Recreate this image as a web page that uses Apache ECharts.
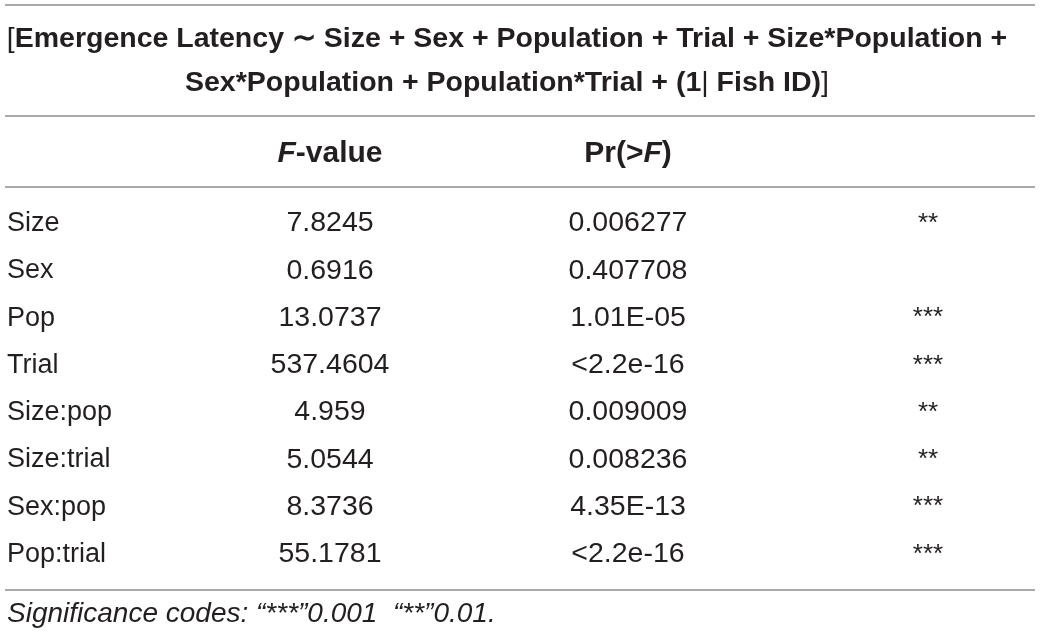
<!DOCTYPE html>
<html>
<head>
<meta charset="utf-8">
<script src="https://cdn.jsdelivr.net/npm/echarts@6/dist/echarts.min.js"></script>
<style>
    html, body { margin: 0; padding: 0; background: #fff; }
    #main { width: 1040px; height: 638px; }
</style>
</head>
<body>
<div id="main"></div>
<script>
// table content
var terms = ['Size', 'Sex', 'Pop', 'Trial', 'Size:pop', 'Size:trial', 'Sex:pop', 'Pop:trial'];
var fValues = ['7.8245', '0.6916', '13.0737', '537.4604', '4.959', '5.0544', '8.3736', '55.1781'];
var pValues = ['0.006277', '0.407708', '1.01E-05', '<2.2e-16', '0.009009', '0.008236', '4.35E-13', '<2.2e-16'];
var signif = ['**', '', '***', '***', '**', '**', '***', '***'];
var titleLines = ['{n|[}Emergence Latency \u223C Size + Sex + Population + Trial + Size*Population +',
    'Sex*Population + Population*Trial + (1{n|| }Fish ID){n|]}'];
var headF = '{i|F}-value';
var headP = 'Pr(>{i|F})';
var footnote = 'Significance codes: \u201C***\u201D0.001  \u201C**\u201D0.01.';

var font = '"Liberation Sans", Arial, sans-serif';
var ink = '#231f20';
var rule = '#8c8c8c';
var colX = {f: 330, p: 628, s: 928}; // column centres in px
var gridLeft = 7;

function cells(list, x) {
    var out = [];
    for (var i = 0; i < list.length; i++) {
        out.push({value: [x, terms[i]], label: {formatter: list[i]}});
    }
    return out;
}

function cellSeries(list, x, extra) {
    return {
        type: 'scatter',
        symbolSize: 0,
        silent: true,
        itemStyle: {opacity: 1},
        data: cells(list, x - gridLeft),
        label: Object.assign({
            show: true,
            position: 'inside',
            align: 'center',
            verticalAlign: 'middle',
            fontFamily: font,
            fontSize: 28.5,
            color: ink,
            opacity: 1
        }, extra || {})
    };
}

function hline(y) {
    return {type: 'line', shape: {x1: 5, y1: y, x2: 1035, y2: y}, style: {stroke: rule, lineWidth: 1.5}};
}

function headText(x, txt) {
    return {
        type: 'text', x: x, y: 154,
        style: {
            text: txt, font: 'bold 30px ' + font, fill: ink, align: 'center', verticalAlign: 'middle',
            rich: {i: {fontStyle: 'italic', fontWeight: 'bold', fontSize: 30, fontFamily: font, fill: ink}}
        }
    };
}

var chart = echarts.init(document.getElementById('main'));
var option = {
    backgroundColor: '#fff',
    animation: false,
    graphic: [
        hline(5), hline(116), hline(187), hline(590),
        {
            type: 'text', x: 507, y: 61,
            style: {
                text: titleLines.join('\n'),
                font: 'bold 28.5px ' + font,
                fill: ink,
                align: 'center',
                verticalAlign: 'middle',
                lineHeight: 44,
                rich: {
                    n: {fontFamily: font, fontSize: 28.5, fontWeight: 'normal', fill: ink, lineHeight: 44}
                }
            }
        },
        headText(colX.f, headF),
        headText(colX.p, headP),
        {
            type: 'text', x: 7, y: 614,
            style: {
                text: footnote, font: 'italic 28px ' + font, fill: ink, align: 'left', verticalAlign: 'middle'
            }
        }
    ],
    grid: {left: gridLeft, right: 0, top: 200, height: 378},
    xAxis: {type: 'value', min: 0, max: 1033, show: false},
    yAxis: {
        type: 'category',
        inverse: true,
        data: terms,
        axisLine: {show: false},
        axisTick: {show: false},
        splitLine: {show: false},
        axisLabel: {
            inside: true,
            align: 'left',
            margin: 0,
            fontFamily: font,
            fontSize: 27,
            color: ink
        }
    },
    series: [
        cellSeries(fValues, colX.f),
        cellSeries(pValues, colX.p),
        cellSeries(signif, colX.s, {fontSize: 26})
    ]
};
chart.setOption(option);
</script>
</body>
</html>
